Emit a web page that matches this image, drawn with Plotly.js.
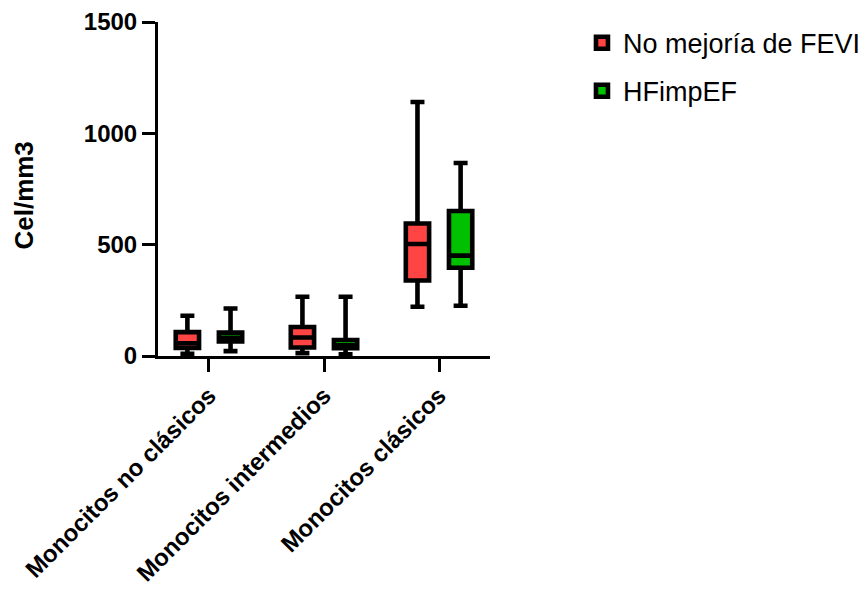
<!DOCTYPE html>
<html>
<head>
<meta charset="utf-8">
<script src="https://cdn.plot.ly/plotly-3.0.1.min.js"></script>
<style>html,body{margin:0;padding:0;background:#fff;}#chart{width:868px;height:590px;}</style>
</head>
<body>
<div id="chart"></div>
<script>
var categories = ['Monocitos no clásicos', 'Monocitos intermedios', 'Monocitos clásicos'];
var seriesNames = ['No mejoría de FEVI', 'HFimpEF'];

var noMejoriaLower  = [10, 13, 221];
var noMejoriaQ1     = [36, 38, 339];
var noMejoriaMedian = [57, 83, 503];
var noMejoriaQ3     = [107, 130, 595];
var noMejoriaUpper  = [181, 266, 1141];

var hfimpefLower  = [22, 8, 226];
var hfimpefQ1     = [65, 35, 396];
var hfimpefMedian = [82, 48, 451];
var hfimpefQ3     = [105, 72, 651];
var hfimpefUpper  = [213, 266, 867];

var yTicks = [0, 500, 1000, 1500];
var yTitle = 'Cel/mm3';

var FONT = 'Liberation Sans, Arial, sans-serif';

function boxTrace(name, group, color, lo, q1, med, q3, hi) {
  return {
    type: 'box',
    name: name,
    legendgroup: group,
    x: categories,
    lowerfence: lo,
    q1: q1,
    median: med,
    q3: q3,
    upperfence: hi,
    boxpoints: false,
    fillcolor: color,
    line: {color: '#000000', width: 4.6},
    whiskerwidth: 0.6,
    hoverinfo: 'skip'
  };
}

var data = [
  boxTrace(seriesNames[0], 'g1', '#FF4444', noMejoriaLower, noMejoriaQ1, noMejoriaMedian, noMejoriaQ3, noMejoriaUpper),
  boxTrace(seriesNames[1], 'g2', '#00C000', hfimpefLower, hfimpefQ1, hfimpefMedian, hfimpefQ3, hfimpefUpper)
];

var layout = {
  width: 868,
  height: 590,
  margin: {l: 158, r: 378, t: 22, b: 234, pad: 0, autoexpand: false},
  paper_bgcolor: '#ffffff',
  plot_bgcolor: '#ffffff',
  boxmode: 'group',
  boxgap: 0.25,
  boxgroupgap: 0.46,
  font: {family: FONT, color: '#000000'},
  showlegend: true,
  legend: {
    x: 1.274, xanchor: 'left', y: 1.01, yanchor: 'top',
    font: {family: FONT, size: 27, color: '#000000'},
    itemwidth: 32,
    tracegroupgap: 10,
    bgcolor: 'rgba(0,0,0,0)'
  },
  xaxis: {
    type: 'category',
    range: [-0.443, 2.443],
    showgrid: false,
    zeroline: false,
    showline: true,
    linecolor: '#000000',
    linewidth: 3,
    ticks: 'outside',
    ticklen: 13,
    tickwidth: 3,
    tickcolor: '#000000',
    tickangle: -45,
    automargin: false,
    tickfont: {family: FONT, size: 24, color: '#000000', weight: 'bold'}
  },
  yaxis: {
    range: [0, 1500],
    tickvals: yTicks,
    ticktext: yTicks.map(String),
    showgrid: false,
    zeroline: false,
    showline: true,
    linecolor: '#000000',
    linewidth: 3,
    ticks: 'outside',
    ticklen: 13,
    tickwidth: 3,
    tickcolor: '#000000',
    automargin: false,
    tickfont: {family: FONT, size: 24, color: '#000000', weight: 'bold'}
  },
  annotations: [{
    text: yTitle,
    xref: 'paper', yref: 'paper',
    x: -0.404, y: 0.48,
    xanchor: 'center', yanchor: 'middle',
    textangle: -90,
    showarrow: false,
    font: {family: FONT, size: 26, color: '#000000', weight: 'bold'}
  }]
};

Plotly.newPlot('chart', data, layout, {staticPlot: true, displayModeBar: false});
</script>
</body>
</html>
